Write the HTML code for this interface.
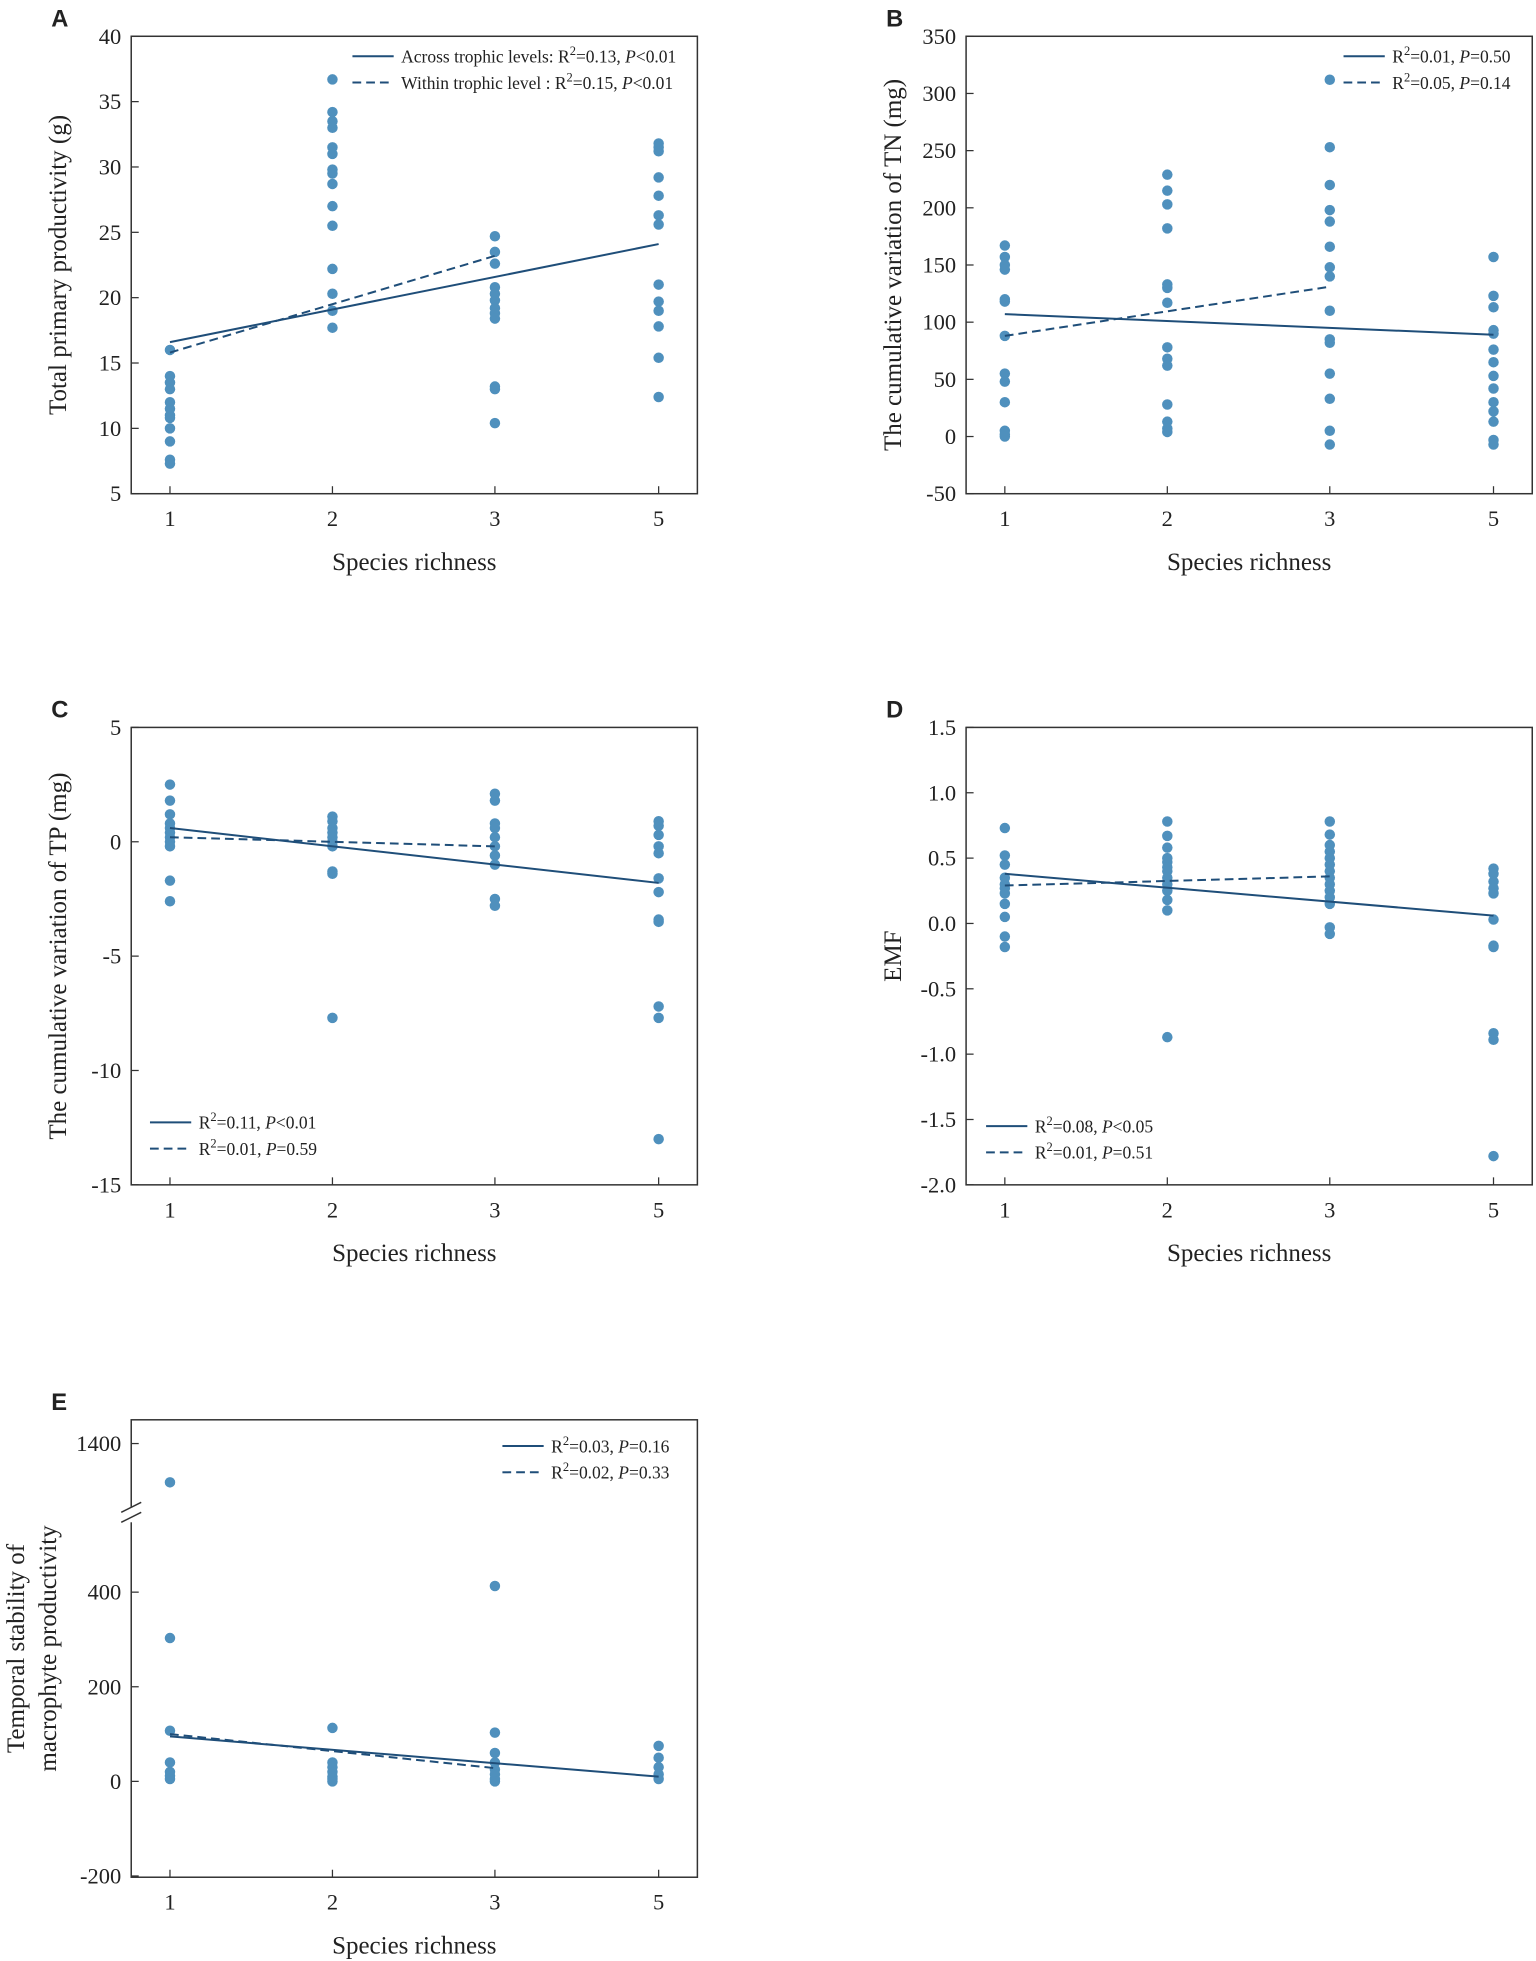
<!DOCTYPE html>
<html><head><meta charset="utf-8"><style>
html,body{margin:0;padding:0;background:#fff}
svg{display:block}
text{font-family:"Liberation Serif",serif;fill:#222}
.pl{font-family:"Liberation Sans",sans-serif;font-weight:bold}
</style></head><body>
<svg id="fig" width="1536" height="1961" viewBox="0 0 1229 1569" xmlns="http://www.w3.org/2000/svg"></svg>
<script>
const categories=["1","2","3","5"];
const aVals=[[16,14,13.5,13,12,11.5,11,10.8,10,9,7.6,7.3],[36.7,34.2,33.5,33,31.5,31,29.8,29.5,28.7,27,25.5,22.2,20.3,19,17.7],[24.7,23.5,22.6,20.8,20.3,19.8,19.2,18.8,18.4,13.2,13,10.4],[31.8,31.5,31.2,29.2,27.8,26.3,25.6,21,19.7,19,17.8,15.4,12.4]];
const aSolid=[16.6,24.1];const aDash=[15.8,23.2];
const aTicks=[5,10,15,20,25,30,35,40];
const bVals=[[167,157,150,146,120,118,88,55,48,30,5,2,0],[229,215,203,182,133,130,117,78,68,62,28,13,7,4],[312,253,220,198,188,166,148,140,110,85,82,55,33,5,-7],[157,123,113,93,90,76,65,53,42,30,22,13,-3,-7]];
const bSolid=[107,89];const bDash=[88,131];
const bTicks=[-50,0,50,100,150,200,250,300,350];
const cVals=[[2.5,1.8,1.2,0.8,0.6,0.4,0.2,0,-0.2,-1.7,-2.6],[1.1,0.9,0.6,0.4,0.2,0,-0.2,-1.3,-1.4,-7.7],[2.1,1.8,0.8,0.6,0.2,-0.2,-0.6,-1.0,-2.5,-2.8],[0.9,0.7,0.3,-0.2,-0.5,-1.6,-2.2,-3.4,-3.5,-7.2,-7.7,-13]];
const cSolid=[0.6,-1.8];const cDash=[0.2,-0.2];
const cTicks=[-15,-10,-5,0,5];
const dVals=[[0.73,0.52,0.45,0.35,0.3,0.27,0.23,0.15,0.05,-0.1,-0.18],[0.78,0.67,0.58,0.5,0.47,0.43,0.4,0.35,0.3,0.25,0.18,0.1,-0.87],[0.78,0.68,0.6,0.55,0.5,0.45,0.4,0.35,0.3,0.25,0.2,0.15,-0.03,-0.08],[0.42,0.38,0.32,0.27,0.23,0.03,-0.17,-0.18,-0.84,-0.89,-1.78]];
const dSolid=[0.38,0.06];const dDash=[0.29,0.36];
const dTicks=[-2.0,-1.5,-1.0,-0.5,0.0,0.5,1.0,1.5];
const eVals=[[1318,303,107,40,20,12,5],[113,40,30,20,10,5,0],[413,103,60,40,25,15,5,0],[75,50,30,15,5]];
const eSolid=[95,10];const eDash=[100,28];
const eTicks=[-200,0,200,400,1400];

const NS="http://www.w3.org/2000/svg";
const svg=document.getElementById('fig');
function mk(tag,attrs,parent,txt){const e=document.createElementNS(NS,tag);for(const k in attrs)e.setAttribute(k,attrs[k]);if(txt!==undefined)e.textContent=txt;(parent||svg).appendChild(e);return e;}
const DOT="#4f90bd",LINE="#1f4e79";

function panel(o){
  const g=mk('g',{});
  
  
  const x0=o.x,x1=o.x+453,y0=o.y,y1=o.y+366;
  const cx=[x0+31,x0+161,x0+291,x0+422];
  const ys=o.ys;
  const t=mk('text',{x:x0-64,y:y0-8,'font-size':19,class:'pl'},g,o.letter);
  
  const box=mk('rect',{x:x0,y:y0,width:453,height:366,fill:'none',stroke:'#333','stroke-width':1.2},g);
  
  o.ticks.forEach(v=>{const y=ys(v);
    mk('line',{x1:x0,x2:x0+6,y1:y,y2:y,stroke:'#333'},g);
    const tl=mk('text',{x:x0-8,y:y+6,'text-anchor':'end','font-size':18},g,o.fmt?o.fmt(v):v);
    });
  categories.forEach((c,i)=>{mk('line',{x1:cx[i],x2:cx[i],y1:y1,y2:y1-6,stroke:'#333'},g);
    const tl=mk('text',{x:cx[i],y:y1+26,'text-anchor':'middle','font-size':18},g,c);
    });
  const xt=mk('text',{x:(x0+x1)/2,y:y1+61,'text-anchor':'middle','font-size':20},g,'Species richness');
  
  const yt=mk('text',{transform:`translate(${x0-52-(o.ytx||0)},${(y0+y1)/2}) rotate(-90)`,'text-anchor':'middle','font-size':20},g);
  
  o.ytitle.forEach((s,i)=>mk('tspan',{x:0,dy:i?26:(o.ytitle.length>1?-20:0)},yt,s));
  o.vals.forEach((arr,i)=>arr.forEach(v=>{const c=mk('circle',{cx:cx[i],cy:ys(v),r:4.2,fill:DOT},g);
    }));
  const s=mk('line',{x1:cx[0],y1:ys(o.solid[0]),x2:cx[3],y2:ys(o.solid[1]),stroke:LINE,'stroke-width':1.6},g);
  
  const d=mk('line',{x1:cx[0],y1:ys(o.dash[0]),x2:cx[2],y2:ys(o.dash[1]),stroke:LINE,'stroke-width':1.6,'stroke-dasharray':'7,4'},g);
  
  o.leg.forEach((L,i)=>{const ly=o.legY+i*21;const lx=o.legX;
    mk('line',{x1:lx,x2:lx+33,y1:ly,y2:ly,stroke:LINE,'stroke-width':1.6,'stroke-dasharray':i?'7,4':'none'},g);
    const tx=mk('text',{x:lx+39,y:ly+5,'font-size':14},g);
    
    mk('tspan',{},tx,L[0]+'R');mk('tspan',{dy:-6,'font-size':10},tx,'2');
    mk('tspan',{dy:6},tx,'='+L[1]+',  ');mk('tspan',{'font-style':'italic'},tx,'P');mk('tspan',{},tx,L[2]);
  });
  return g;
}
const lin=(y0,y1,a,b)=>v=>y1-(v-a)/(b-a)*(y1-y0);
panel({letter:'A',x:105,y:29,ys:lin(29,395,5,40),ticks:aTicks,vals:aVals,solid:aSolid,dash:aDash,ytitle:['Total primary productivity (g)'],legX:282,legY:45,leg:[['Across trophic levels: ','0.13','<0.01'],['Within trophic level : ','0.15','<0.01']]});
panel({letter:'B',x:773,y:29,ys:lin(29,395,-50,350),ticks:bTicks,vals:bVals,solid:bSolid,dash:bDash,ytitle:['The  cumulative variation of TN (mg)'],legX:1075,legY:45,leg:[['','0.01','=0.50'],['','0.05','=0.14']]});
panel({letter:'C',x:105,y:582,ys:lin(582,948,-15,5),ticks:cTicks,vals:cVals,solid:cSolid,dash:cDash,ytitle:['The  cumulative variation of TP (mg)'],legX:120,legY:898,leg:[['','0.11','<0.01'],['','0.01','=0.59']]});
panel({letter:'D',x:773,y:582,ys:lin(582,948,-2,1.5),ticks:dTicks,vals:dVals,solid:dSolid,dash:dDash,fmt:v=>v.toFixed(1),ytitle:['EMF'],legX:789,legY:901,leg:[['','0.08','<0.05'],['','0.01','=0.51']]});
const eScale=v=>v>1000?1155+(1400-v)*75.7/200:1501-(v+200)*75.7/200;
const pe=panel({letter:'E',x:105,y:1136,ys:eScale,ticks:eTicks,vals:eVals,solid:eSolid,dash:eDash,ytx:14,ytitle:['Temporal stability of','macrophyte productivity'],legX:402,legY:1157,leg:[['','0.03','=0.16'],['','0.02','=0.33']]});
mk('rect',{x:99,y:1206,width:12,height:12,fill:'#fff'},pe);
const b1=mk('line',{x1:97,y1:1210,x2:113,y2:1202,stroke:'#333','stroke-width':1.2},pe);

const b2=mk('line',{x1:97,y1:1218,x2:113,y2:1210,stroke:'#333','stroke-width':1.2},pe);

</script>
</body></html>
